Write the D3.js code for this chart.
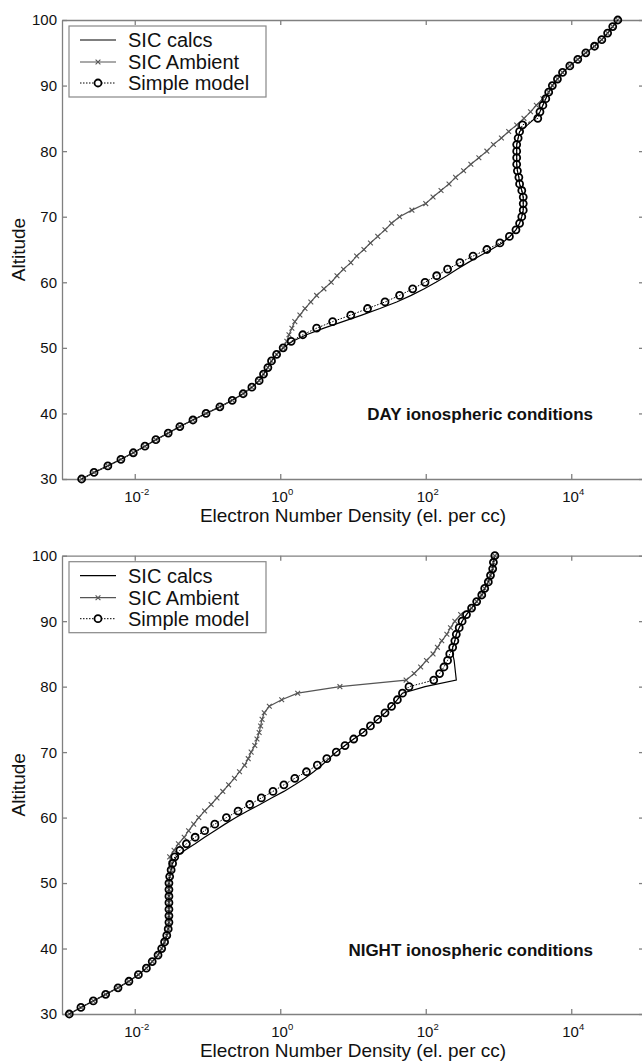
<!DOCTYPE html>
<html><head><meta charset="utf-8">
<script src="https://cdn.jsdelivr.net/npm/d3@7"></script>
<style>body{margin:0;background:#fff} svg{display:block} text{font-family:"Liberation Sans",Arial,sans-serif;fill:#111}</style>
</head><body><svg id="c" width="642" height="1061"></svg>
<script>
// Altitude (km) of every sample
const altitudes = [30,31,32,33,34,35,36,37,38,39,40,41,42,43,44,45,46,47,48,49,50,51,52,53,54,55,56,57,58,59,60,61,62,63,64,65,66,67,68,69,70,71,72,73,74,75,76,77,78,79,80,81,82,83,84,85,86,87,88,89,90,91,92,93,94,95,96,97,98,99,100];
const yTicks = [30,40,50,60,70,80,90,100];
const xTickExponents = [-2,0,2,4];
const seriesNames = ["SIC calcs","SIC Ambient","Simple model"];
const panelTitles = ["DAY ionospheric conditions","NIGHT ionospheric conditions"];
const xAxisTitle = "Electron Number Density (el. per cc)";
const yAxisTitle = "Altitude";

// log10 of electron number density (el. per cc), one value per altitude
const dayCalcs = [-2.73,-2.56,-2.37,-2.19,-2.02,-1.86,-1.71,-1.54,-1.38,-1.20,-1.02,-0.83,-0.66,-0.51,-0.39,-0.29,-0.23,-0.17,-0.12,-0.05,0.04,0.17,0.36,0.60,0.86,1.12,1.37,1.60,1.80,1.98,2.14,2.29,2.43,2.58,2.74,2.90,3.05,3.16,3.24,3.29,3.32,3.34,3.34,3.34,3.32,3.29,3.28,3.26,3.25,3.25,3.25,3.25,3.27,3.29,3.40,3.50,3.57,3.61,3.65,3.69,3.74,3.81,3.88,3.98,4.09,4.20,4.32,4.42,4.50,4.57,4.64];
const dayAmbient = [-2.73,-2.56,-2.37,-2.19,-2.02,-1.86,-1.71,-1.54,-1.38,-1.20,-1.02,-0.83,-0.66,-0.51,-0.39,-0.29,-0.23,-0.17,-0.12,-0.05,0.04,0.09,0.12,0.16,0.20,0.27,0.34,0.42,0.50,0.60,0.70,0.78,0.87,0.97,1.05,1.15,1.24,1.34,1.44,1.53,1.64,1.81,2.00,2.10,2.21,2.32,2.41,2.52,2.62,2.73,2.84,2.93,3.04,3.14,3.25,3.35,3.44,3.52,3.61,3.69,3.74,3.81,3.88,3.98,4.09,4.20,4.32,4.42,4.50,4.57,4.64];
const daySimple = [-2.73,-2.56,-2.37,-2.19,-2.02,-1.86,-1.71,-1.54,-1.38,-1.20,-1.02,-0.83,-0.66,-0.51,-0.39,-0.29,-0.23,-0.17,-0.12,-0.05,0.04,0.15,0.31,0.50,0.72,0.97,1.20,1.44,1.64,1.82,1.99,2.15,2.30,2.47,2.65,2.84,3.02,3.15,3.24,3.29,3.32,3.34,3.34,3.34,3.32,3.29,3.28,3.26,3.25,3.25,3.25,3.25,3.27,3.29,3.33,3.54,3.57,3.61,3.65,3.69,3.74,3.81,3.88,3.98,4.09,4.20,4.32,4.42,4.50,4.57,4.64];

const nightCalcs = [-2.90,-2.74,-2.57,-2.40,-2.23,-2.08,-1.95,-1.84,-1.76,-1.68,-1.63,-1.59,-1.56,-1.54,-1.53,-1.53,-1.53,-1.53,-1.53,-1.53,-1.53,-1.52,-1.50,-1.48,-1.43,-1.31,-1.17,-1.04,-0.90,-0.76,-0.61,-0.45,-0.28,-0.12,0.05,0.20,0.34,0.46,0.57,0.67,0.77,0.89,1.01,1.14,1.24,1.34,1.44,1.53,1.61,1.68,1.99,2.42,2.41,2.40,2.39,2.37,2.37,2.40,2.42,2.46,2.50,2.56,2.63,2.70,2.77,2.81,2.86,2.89,2.92,2.93,2.95];
const nightAmbient = [-2.90,-2.74,-2.57,-2.40,-2.23,-2.08,-1.95,-1.84,-1.76,-1.68,-1.63,-1.59,-1.56,-1.54,-1.53,-1.53,-1.53,-1.53,-1.53,-1.53,-1.53,-1.52,-1.50,-1.50,-1.52,-1.46,-1.40,-1.32,-1.26,-1.19,-1.12,-1.04,-0.95,-0.87,-0.79,-0.71,-0.63,-0.56,-0.49,-0.44,-0.40,-0.35,-0.32,-0.29,-0.27,-0.25,-0.22,-0.15,0.02,0.24,0.82,1.73,1.84,1.93,2.01,2.10,2.16,2.22,2.29,2.34,2.40,2.48,2.63,2.70,2.77,2.81,2.86,2.89,2.92,2.93,2.95];
const nightSimple = [-2.90,-2.74,-2.57,-2.40,-2.23,-2.08,-1.95,-1.84,-1.76,-1.68,-1.63,-1.59,-1.56,-1.54,-1.53,-1.53,-1.53,-1.53,-1.53,-1.53,-1.53,-1.52,-1.50,-1.48,-1.45,-1.38,-1.29,-1.17,-1.04,-0.90,-0.74,-0.58,-0.42,-0.26,-0.10,0.05,0.20,0.36,0.51,0.64,0.77,0.89,1.01,1.14,1.24,1.34,1.44,1.53,1.61,1.68,1.77,2.11,2.19,2.25,2.30,2.33,2.37,2.40,2.42,2.46,2.50,2.56,2.63,2.70,2.77,2.81,2.86,2.89,2.92,2.93,2.95];

const svg = d3.select("#c");
const AX = "#808080";
const panels = [
  {top: 20, bottom: 479, title: panelTitles[0], series: [dayCalcs, dayAmbient, daySimple]},
  {top: 555.7, bottom: 1014, title: panelTitles[1], series: [nightCalcs, nightAmbient, nightSimple]}
];
const x = d3.scaleLog().domain([1e-3, 1e5]).range([62, 644]);

function xMark(g, cx, cy, s) {
  g.append("path").attr("d", `M${cx-s},${cy-s}L${cx+s},${cy+s}M${cx-s},${cy+s}L${cx+s},${cy-s}`)
    .attr("stroke", "#555").attr("stroke-width", 1.1).attr("fill", "none");
}

panels.forEach(p => {
  const y = d3.scaleLinear().domain([30, 100]).range([p.bottom, p.top]);
  const g = svg.append("g");
  const xt = xTickExponents.map(e => Math.pow(10, e));
  const styleAxis = sel => { sel.selectAll("path,line").attr("stroke", AX).attr("stroke-width", 1.3); sel.selectAll("text").remove(); };
  g.append("g").attr("transform", `translate(0,${p.bottom})`).call(d3.axisBottom(x).tickValues(xt).tickSize(-5).tickSizeOuter(0)).call(styleAxis);
  g.append("g").attr("transform", `translate(0,${p.top})`).call(d3.axisTop(x).tickValues(xt).tickSize(-5).tickSizeOuter(0)).call(styleAxis);
  g.append("g").attr("transform", `translate(62,0)`).call(d3.axisLeft(y).tickValues(yTicks).tickSize(-5).tickSizeOuter(0)).call(styleAxis);
  g.append("g").attr("transform", `translate(644,0)`).call(d3.axisRight(y).tickValues(yTicks).tickSize(-5).tickSizeOuter(0)).call(styleAxis);

  // y tick labels
  yTicks.forEach(t => {
    g.append("text").attr("x", 57).attr("y", y(t)).attr("dy", "0.36em").attr("text-anchor", "end")
      .attr("font-size", 15).text(t);
  });
  // x tick labels
  xTickExponents.forEach(e => {
    const t = g.append("text").attr("x", x(Math.pow(10, e)) + 2).attr("y", p.bottom + 22.5)
      .attr("text-anchor", "middle").attr("font-size", 15);
    t.append("tspan").text("10");
    t.append("tspan").attr("font-size", 9.5).attr("dy", -7).text(e);
  });
  // axis titles
  g.append("text").attr("x", 353).attr("y", p.bottom + 43).attr("text-anchor", "middle").attr("font-size", 19).text(xAxisTitle);
  g.append("text").attr("transform", `translate(25,${(p.top + p.bottom) / 2}) rotate(-90)`).attr("text-anchor", "middle").attr("font-size", 19).text(yAxisTitle);
  // condition label
  g.append("text").attr("x", 593).attr("y", p.top + 400).attr("text-anchor", "end").attr("font-size", 17)
    .attr("font-weight", "bold").text(p.title);

  const line = d3.line().x(d => x(Math.pow(10, d[1]))).y(d => y(d[0]));
  const pts = s => altitudes.map((a, i) => [a, s[i]]);
  const [calcs, amb, simple] = p.series;
  g.append("path").attr("d", line(pts(calcs))).attr("fill", "none").attr("stroke", "#000").attr("stroke-width", 1.2);
  g.append("path").attr("d", line(pts(amb))).attr("fill", "none").attr("stroke", "#555").attr("stroke-width", 1.2);
  pts(amb).forEach(d => xMark(g, x(Math.pow(10, d[1])), y(d[0]), 2.4));
  g.append("path").attr("d", line(pts(simple))).attr("fill", "none").attr("stroke", "#000").attr("stroke-width", 1).attr("stroke-dasharray", "1.5,1.5");
  g.selectAll(null).data(pts(simple)).enter().append("circle")
    .attr("cx", d => x(Math.pow(10, d[1]))).attr("cy", d => y(d[0])).attr("r", 3.5)
    .attr("fill", "none").attr("stroke", "#000").attr("stroke-width", 1.8);

  // legend
  const lg = g.append("g").attr("transform", `translate(69,${p.top + 6})`);
  lg.append("rect").attr("width", 197).attr("height", 71).attr("fill", "#fff").attr("stroke", "#888").attr("stroke-width", 1.2);
  const rows = [14, 36, 57];
  seriesNames.forEach((n, i) => {
    const yy = rows[i];
    const ln = lg.append("line").attr("x1", 11).attr("x2", 47).attr("y1", yy).attr("y2", yy)
      .attr("stroke", i === 1 ? "#555" : "#000").attr("stroke-width", i === 2 ? 1 : 1.2);
    if (i === 2) ln.attr("stroke-dasharray", "1.5,1.5");
    if (i === 1) xMark(lg, 29, yy, 2.4);
    if (i === 2) lg.append("circle").attr("cx", 29).attr("cy", yy).attr("r", 3.5).attr("fill", "#fff").attr("stroke", "#000").attr("stroke-width", 1.8);
    lg.append("text").attr("x", 59).attr("y", yy).attr("dy", "0.36em").attr("font-size", 20).text(n);
  });
});
</script></body></html>
